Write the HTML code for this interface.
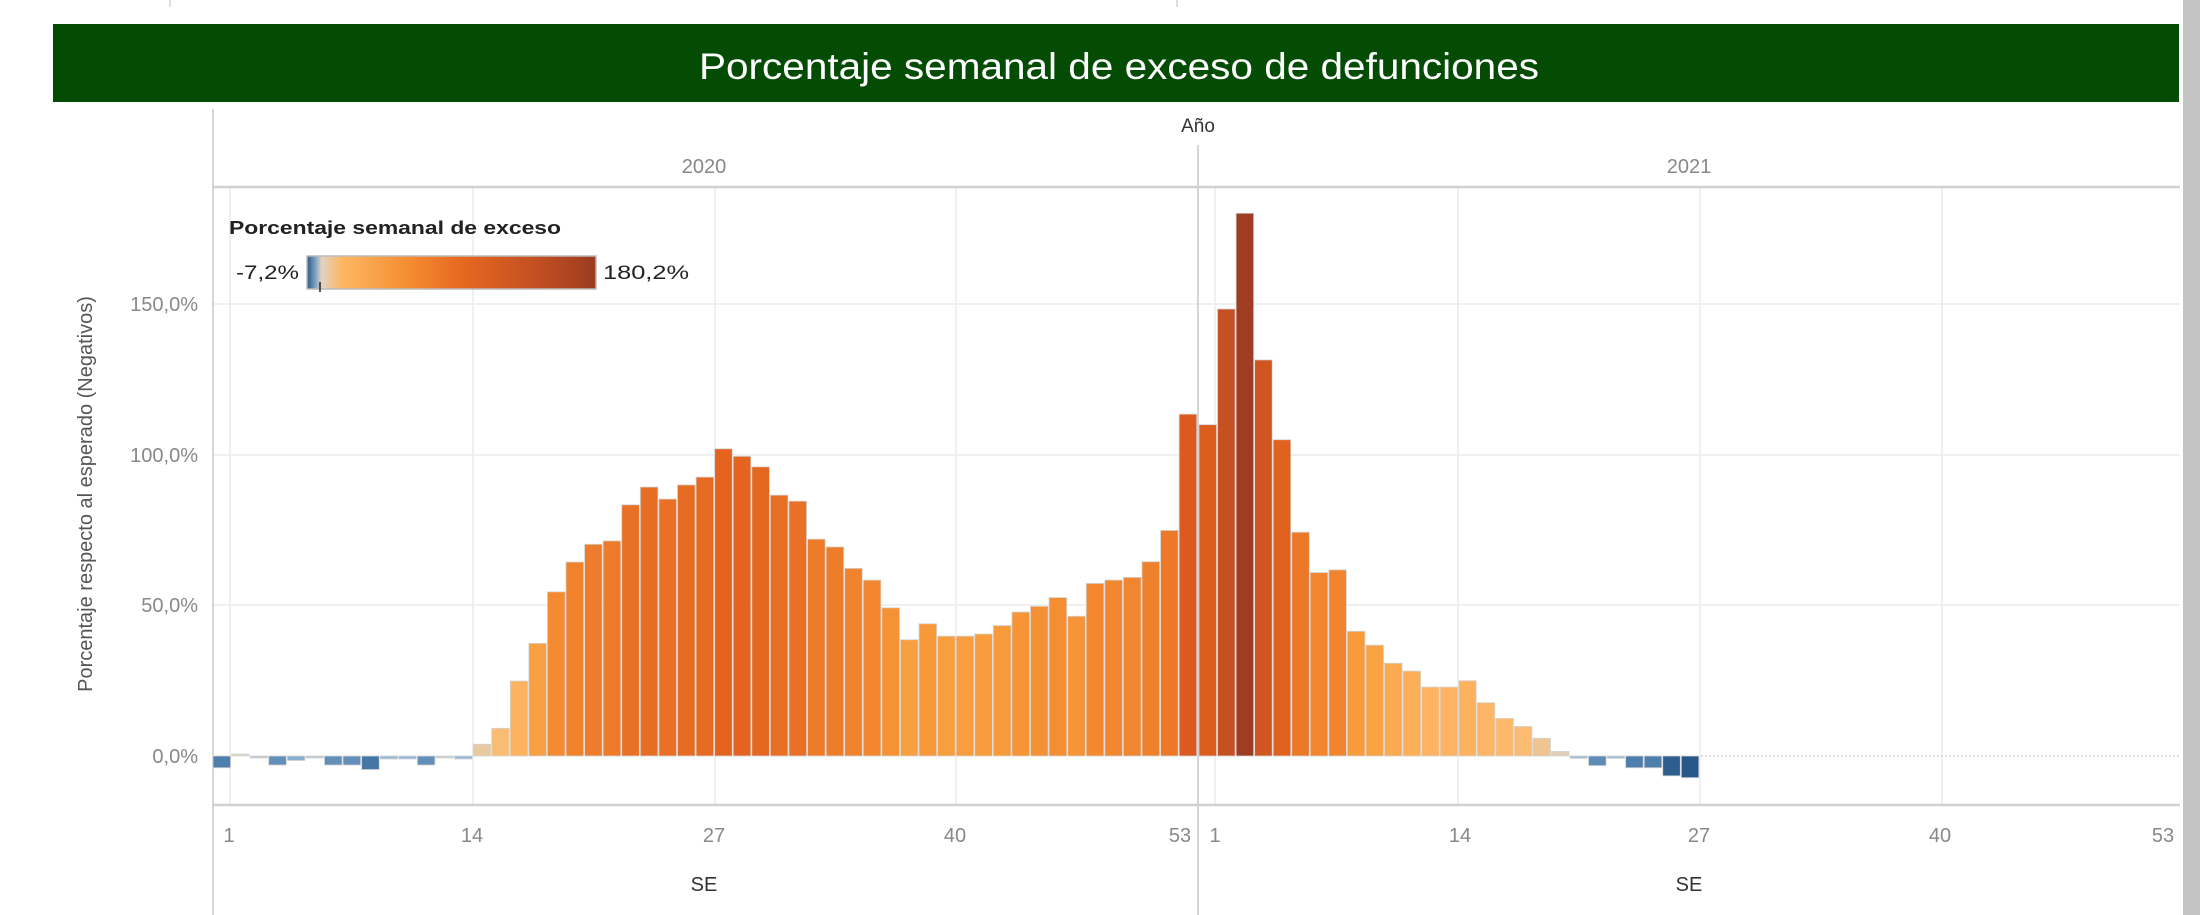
<!DOCTYPE html>
<html><head><meta charset="utf-8"><style>
html,body{margin:0;padding:0;background:#fff;}
svg{display:block;font-family:"Liberation Sans",sans-serif;}
</style></head><body>
<svg id="s" width="2200" height="915" viewBox="0 0 2200 915" xmlns="http://www.w3.org/2000/svg">
<defs>
<linearGradient id="lg" x1="0" x2="1" y1="0" y2="0">
<stop offset="0" stop-color="#2c5a88"/>
<stop offset="0.03" stop-color="#7fa3c4"/>
<stop offset="0.05" stop-color="#e0d4c2"/>
<stop offset="0.12" stop-color="#fdb763"/>
<stop offset="0.35" stop-color="#f58d32"/>
<stop offset="0.55" stop-color="#e5661f"/>
<stop offset="0.8" stop-color="#c24f22"/>
<stop offset="1" stop-color="#9b3b21"/>
</linearGradient>
</defs>
<rect x="0" y="0" width="2200" height="915" fill="#fff"/>
<rect x="2183" y="0" width="17" height="915" fill="#c4c4c4"/>
<line x1="170" y1="0" x2="170" y2="7" stroke="#bbb"/>
<line x1="1177" y1="0" x2="1177" y2="7" stroke="#bbb"/>
<rect x="53" y="24" width="2126" height="78" fill="#044c03"/>
<text x="1119" y="79" font-size="37" fill="#fff" text-anchor="middle" textLength="840" lengthAdjust="spacingAndGlyphs">Porcentaje semanal de exceso de defunciones</text>
<g id="grid" stroke="#ececec" stroke-width="1.5">
<line x1="213" y1="304" x2="2180" y2="304"/>
<line x1="213" y1="455" x2="2180" y2="455"/>
<line x1="213" y1="605" x2="2180" y2="605"/>
<line x1="230" y1="188" x2="230" y2="804"/>
<line x1="473" y1="188" x2="473" y2="804"/>
<line x1="715" y1="188" x2="715" y2="804"/>
<line x1="956" y1="188" x2="956" y2="804"/>
<line x1="1215" y1="188" x2="1215" y2="804"/>
<line x1="1458" y1="188" x2="1458" y2="804"/>
<line x1="1700" y1="188" x2="1700" y2="804"/>
<line x1="1942" y1="188" x2="1942" y2="804"/>
</g>
<line x1="213" y1="109" x2="213" y2="915" stroke="#c8c8c8" stroke-width="1.5"/>
<line x1="1198" y1="145" x2="1198" y2="915" stroke="#c8c8c8" stroke-width="1.5"/>
<line x1="213" y1="187" x2="2180" y2="187" stroke="#d0d0d0" stroke-width="2.5"/>
<line x1="213" y1="805" x2="2180" y2="805" stroke="#d0d0d0" stroke-width="2.5"/>
<line x1="1701" y1="756" x2="2180" y2="756" stroke="#bbb" stroke-width="1" stroke-dasharray="2,2"/>
<g id="bars"></g>
<text x="1198" y="132" font-size="19" fill="#333" text-anchor="middle">Año</text>
<text x="704" y="173" font-size="20" fill="#888" text-anchor="middle">2020</text>
<text x="1689" y="173" font-size="20" fill="#888" text-anchor="middle">2021</text>
<g font-size="20" fill="#888" text-anchor="end">
<text x="198" y="311">150,0%</text>
<text x="198" y="462">100,0%</text>
<text x="198" y="612">50,0%</text>
<text x="198" y="763">0,0%</text>
</g>
<text transform="translate(92,494) rotate(-90)" font-size="20" fill="#555" text-anchor="middle">Porcentaje respecto al esperado (Negativos)</text>
<g font-size="20" fill="#888" text-anchor="middle">
<text x="229" y="842">1</text>
<text x="472" y="842">14</text>
<text x="714" y="842">27</text>
<text x="955" y="842">40</text>
<text x="1180" y="842">53</text>
<text x="1215" y="842">1</text>
<text x="1460" y="842">14</text>
<text x="1699" y="842">27</text>
<text x="1940" y="842">40</text>
<text x="2163" y="842">53</text>
</g>
<text x="704" y="891" font-size="20" fill="#333" text-anchor="middle">SE</text>
<text x="1689" y="891" font-size="20" fill="#333" text-anchor="middle">SE</text>
<text x="229" y="234" font-size="18" font-weight="bold" fill="#222" textLength="332" lengthAdjust="spacingAndGlyphs">Porcentaje semanal de exceso</text>
<text x="236" y="279" font-size="19" fill="#222" textLength="63" lengthAdjust="spacingAndGlyphs">-7,2%</text>
<rect x="307" y="256" width="289" height="33" fill="url(#lg)" stroke="#bbb" stroke-width="1.5"/>
<line x1="320" y1="282" x2="320" y2="292" stroke="#222" stroke-width="1.5"/>
<text x="603" y="279" font-size="19" fill="#222" textLength="86" lengthAdjust="spacingAndGlyphs">180,2%</text>
</svg>
<script>
var a=[-3.9,0.3,-0.5,-3,-1.5,-0.5,-3,-3,-4.5,-1,-1,-3,-0.3,-1,3.9,9.2,24.9,37.4,54.5,64.4,70.3,71.4,83.4,89.3,85.3,90,92.6,102,99.5,96,86.6,84.6,72,69.4,62.3,58.4,49.2,38.6,43.9,39.8,39.8,40.5,43.3,47.8,49.7,52.6,46.4,57.3,58.4,59.3,64.5,74.9,113.5];
var b=[110,148.4,180.2,131.5,105,74.3,60.9,61.8,41.4,36.8,30.8,28.2,22.9,22.9,25,17.7,12.5,9.8,5.9,1.5,-0.8,-3.2,-0.8,-3.9,-3.9,-6.6,-7.2];
var stops=[[-7.2,[40,86,136]],[-4,[74,124,170]],[-1,[150,185,215]],[0,[220,212,198]],[4,[232,201,160]],[10,[252,186,110]],[25,[253,178,96]],[40,[248,158,60]],[55,[244,138,48]],[75,[236,120,40]],[100,[228,100,31]],[115,[218,90,31]],[150,[196,79,34]],[180.2,[158,61,34]]];
function col(v){if(v<=stops[0][0])return stops[0][1];for(var i=1;i<stops.length;i++){if(v<=stops[i][0]){var p=stops[i-1],q=stops[i],t=(v-p[0])/(q[0]-p[0]);return p[1].map(function(c,k){return Math.round(c+(q[1][k]-c)*t);});}}return stops[stops.length-1][1];}
var g=document.getElementById('bars'),ns='http://www.w3.org/2000/svg',z=756,k=3.012;
function bar(x,w,v){var r=document.createElementNS(ns,'rect');var h=Math.max(Math.abs(v)*k,2);var y=v>=0?z-h:z;r.setAttribute('x',x.toFixed(2));r.setAttribute('y',y.toFixed(2));r.setAttribute('width',(w-1).toFixed(2));r.setAttribute('height',h.toFixed(2));var c=col(v);r.setAttribute('fill','rgb('+c.join(',')+')');r.setAttribute('stroke','#d4d4d4');r.setAttribute('stroke-width','0.8');g.appendChild(r);}
a.forEach(function(v,i){bar(213+i*18.58,18.58,v);});
b.forEach(function(v,i){bar(1199+i*18.55,18.55,v);});
</script>
</body></html>
